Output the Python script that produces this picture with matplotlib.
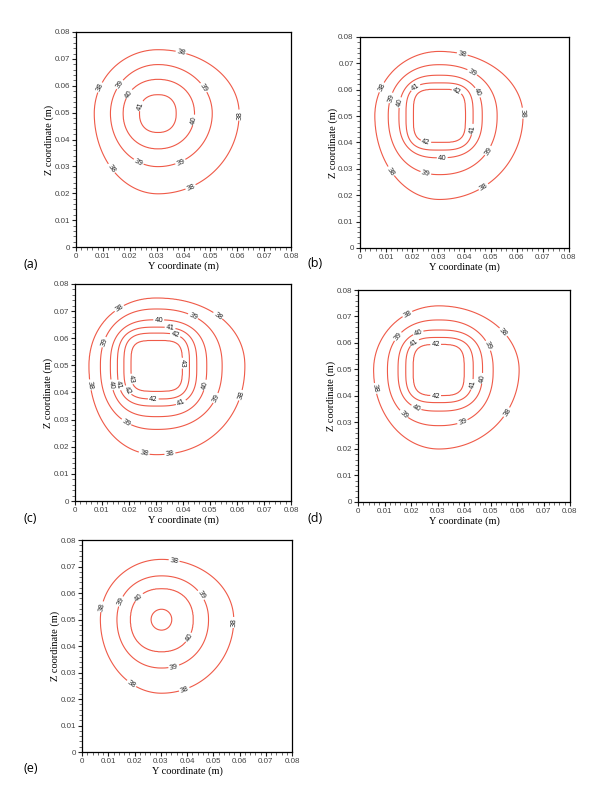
import numpy as np
import matplotlib
matplotlib.use("Agg")
import matplotlib.pyplot as plt
from matplotlib.ticker import MultipleLocator, FuncFormatter

# ---------------- data ----------------
panel_names = ["(a)", "(b)", "(c)", "(d)", "(e)"]

# contour levels per panel (outer -> inner)
levels_a = [38, 39, 40, 41]
levels_b = [38, 39, 40, 41, 42]
levels_c = [38, 39, 40, 41, 42, 43]
levels_d = [38, 39, 40, 41, 42]
levels_e = [38, 39, 40, 41]

# extents of each contour: left, right (Y, m), bottom, top (Z, m)
left_a = [0.0068, 0.0128, 0.0175, 0.0236]
right_a = [0.0607, 0.0507, 0.0441, 0.0373]
bottom_a = [0.0198, 0.0299, 0.0365, 0.0426]
top_a = [0.0734, 0.0679, 0.0624, 0.0567]

left_b = [0.0057, 0.0108, 0.0149, 0.0176, 0.0204]
right_b = [0.0624, 0.0525, 0.0468, 0.0433, 0.0404]
bottom_b = [0.0184, 0.0278, 0.0342, 0.0371, 0.0400]
top_b = [0.0745, 0.0695, 0.0655, 0.0626, 0.0602]

left_c = [0.0052, 0.0094, 0.0131, 0.0157, 0.0181, 0.0207]
right_c = [0.0629, 0.0545, 0.0488, 0.0451, 0.0424, 0.0398]
bottom_c = [0.0171, 0.0264, 0.0311, 0.0350, 0.0376, 0.0404]
top_c = [0.0748, 0.0708, 0.0668, 0.0641, 0.0619, 0.0592]

left_d = [0.0059, 0.0111, 0.0151, 0.0180, 0.0208]
right_d = [0.0608, 0.0510, 0.0470, 0.0435, 0.0401]
bottom_d = [0.0200, 0.0288, 0.0343, 0.0375, 0.0401]
top_d = [0.0740, 0.0687, 0.0649, 0.0621, 0.0595]

left_e = [0.0070, 0.0133, 0.0184, 0.0263]
right_e = [0.0578, 0.0482, 0.0424, 0.0342]
bottom_e = [0.0222, 0.0317, 0.0378, 0.0460]
top_e = [0.0727, 0.0665, 0.0617, 0.0539]

# centre of the hot core (Y, Z)
center_a = (0.0305, 0.0497)
center_b = (0.0304, 0.0501)
center_c = (0.0302, 0.0498)
center_d = (0.0305, 0.0498)
center_e = (0.0303, 0.0500)

# squareness of each contour (2 = ellipse, larger = squarer)
shape_a = [2.0, 2.0, 2.1, 2.3]
shape_b = [2.0, 2.2, 2.6, 3.2, 3.8]
shape_c = [2.1, 2.3, 2.6, 3.0, 3.4, 3.9]
shape_d = [2.0, 2.3, 2.7, 3.1, 3.6]
shape_e = [2.0, 2.1, 2.2, 2.0]

# label positions on contours (Y, Z)
labels_a = [(0.0391, 0.0726), (0.0083, 0.0596), (0.0127, 0.0289), (0.0607, 0.0491), (0.0431, 0.0213),
            (0.0158, 0.0608), (0.0232, 0.0315), (0.0391, 0.0311), (0.0475, 0.0593),
            (0.0195, 0.0571), (0.0440, 0.0472), (0.0245, 0.0524)]
labels_b = [(0.0392, 0.0739), (0.0080, 0.0610), (0.0115, 0.0289), (0.0620, 0.0511), (0.0478, 0.0223),
            (0.0429, 0.0665), (0.0121, 0.0568), (0.0252, 0.0285), (0.0490, 0.0369),
            (0.0153, 0.0551), (0.0446, 0.0587), (0.0315, 0.0331),
            (0.0214, 0.0606), (0.0431, 0.0450), (0.0369, 0.0587), (0.0252, 0.0403)]
labels_c = [(0.0157, 0.0720), (0.0532, 0.0687), (0.0054, 0.0428), (0.0620, 0.0388), (0.0256, 0.0175),
            (0.0352, 0.0171), (0.0106, 0.0586), (0.0435, 0.0677), (0.0191, 0.0292), (0.0516, 0.0382),
            (0.0310, 0.0671), (0.0135, 0.0428), (0.0479, 0.0428),
            (0.0352, 0.0637), (0.0166, 0.0428), (0.0391, 0.0366),
            (0.0370, 0.0609), (0.0197, 0.0409), (0.0290, 0.0376),
            (0.0399, 0.0508), (0.0213, 0.0450)]
labels_d = [(0.0183, 0.0716), (0.0550, 0.0643), (0.0067, 0.0429), (0.0567, 0.0335),
            (0.0151, 0.0624), (0.0491, 0.0590), (0.0176, 0.0335), (0.0394, 0.0303),
            (0.0229, 0.0634), (0.0462, 0.0467), (0.0220, 0.0356),
            (0.0210, 0.0605), (0.0428, 0.0444), (0.0293, 0.0595), (0.0293, 0.0401)]
labels_e = [(0.0351, 0.0724), (0.0078, 0.0548), (0.0187, 0.0256), (0.0392, 0.0229), (0.0578, 0.0489),
            (0.0146, 0.0569), (0.0456, 0.0594), (0.0351, 0.0317),
            (0.0215, 0.0586), (0.0409, 0.0431)]

tick_values = [0, 0.01, 0.02, 0.03, 0.04, 0.05, 0.06, 0.07, 0.08]

# ---------------- layout ----------------
axes_rects = [
    [0.1267, 0.6920, 0.3583, 0.2681],
    [0.6000, 0.6908, 0.3483, 0.2631],
    [0.1250, 0.3753, 0.3600, 0.2706],
    [0.5967, 0.3741, 0.3533, 0.2643],
    [0.1367, 0.0623, 0.3500, 0.2643],
]
panel_label_pos = [(24, 265), (308, 264), (24, 519), (308, 519), (24, 768)]

LINE = "#ef5a48"


def build_field(center, levels, left, right, bottom, top, shape, n=500):
    g = np.linspace(0, 0.08, n)
    X, Y = np.meshgrid(g, g)
    cx, cy = center
    dx = X - cx
    dy = Y - cy
    D = []
    for k in range(len(levels)):
        axx = np.where(dx >= 0, right[k] - cx, cx - left[k])
        ayy = np.where(dy >= 0, top[k] - cy, cy - bottom[k])
        p = shape[k]
        d = ((np.abs(dx) / axx) ** p + (np.abs(dy) / ayy) ** p) ** (1.0 / p)
        D.append(d)
    D = np.array(D)
    L = np.array(levels, dtype=float)
    nl = len(levels)
    c = (D < 1).sum(axis=0)
    T = np.empty_like(X)
    out = c == 0
    T[out] = L[0] - (D[0][out] - 1.0) * 2.0
    inn = c == nl
    T[inn] = L[-1] + (1.0 - D[-1][inn]) * 0.9
    mid = (~out) & (~inn)
    k = np.clip(c - 1, 0, nl - 2)
    Dk = np.take_along_axis(D, k[None], axis=0)[0]
    Dk1 = np.take_along_axis(D, (k + 1)[None], axis=0)[0]
    t = (1.0 - Dk) / np.maximum(Dk1 - Dk, 1e-9)
    t = np.clip(t, 0, 1)
    T[mid] = (L[k] + t * 1.0)[mid]
    return X, Y, T


panels = [
    (center_a, levels_a, left_a, right_a, bottom_a, top_a, shape_a, labels_a),
    (center_b, levels_b, left_b, right_b, bottom_b, top_b, shape_b, labels_b),
    (center_c, levels_c, left_c, right_c, bottom_c, top_c, shape_c, labels_c),
    (center_d, levels_d, left_d, right_d, bottom_d, top_d, shape_d, labels_d),
    (center_e, levels_e, left_e, right_e, bottom_e, top_e, shape_e, labels_e),
]

fig = plt.figure(figsize=(6.0, 8.02), dpi=100)
W, H = 600, 802

fmt = FuncFormatter(lambda v, pos: "0" if abs(v) < 1e-9 else f"{v:.2f}")

for i, (center, lev, le, ri, bo, to, sh, lab) in enumerate(panels):
    ax = fig.add_axes(axes_rects[i])
    X, Y, T = build_field(center, lev, le, ri, bo, to, sh)
    cs = ax.contour(X, Y, T, levels=lev, colors=LINE, linewidths=0.8)
    ax.clabel(cs, manual=lab, inline=True, inline_spacing=1, fontsize=5,
              colors="#222222", fmt="%d")
    ax.set_xlim(0, 0.08)
    ax.set_ylim(0, 0.08)
    ax.set_xticks(tick_values)
    ax.set_yticks(tick_values)
    ax.xaxis.set_major_formatter(fmt)
    ax.yaxis.set_major_formatter(fmt)
    ax.xaxis.set_minor_locator(MultipleLocator(0.002))
    ax.yaxis.set_minor_locator(MultipleLocator(0.002))
    ax.tick_params(which="major", direction="out", length=3, width=0.8,
                   labelsize=5.8, labelcolor="#444444", pad=1.5, colors="#222222")
    ax.tick_params(which="minor", direction="out", length=2, width=0.6, colors="#555555")
    for lbl in ax.get_xticklabels() + ax.get_yticklabels():
        lbl.set_fontfamily("Liberation Sans")
    for s in ax.spines.values():
        s.set_linewidth(0.9)
    ax.set_xlabel("Y coordinate (m)", fontsize=7.5, family="Liberation Serif", labelpad=0.5)
    ax.set_ylabel("Z coordinate (m)", fontsize=7.5, family="Liberation Serif", labelpad=0)
    px, py = panel_label_pos[i]
    fig.text(px / W, 1 - py / H, panel_names[i], fontsize=9, family="Open Sans",
             ha="left", va="center")

fig.savefig("out.png", dpi=100)
